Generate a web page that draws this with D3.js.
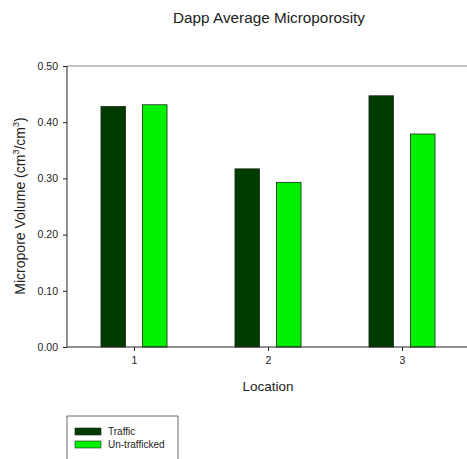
<!DOCTYPE html>
<html>
<head>
<meta charset="utf-8">
<script src="https://cdn.jsdelivr.net/npm/d3@7"></script>
<style>
  body{margin:0;background:#fff;}
  text{font-family:Arial,"Liberation Sans",sans-serif;fill:#222;}
</style>
</head>
<body>
<svg id="chart" width="467" height="459"></svg>
<script>
const locations = [1, 2, 3];
const traffic = [0.428, 0.317, 0.447];
const untrafficked = [0.431, 0.293, 0.379];
const seriesNames = ["Traffic", "Un-trafficked"];
const seriesColors = ["#003c00", "#00f000"];
const yTicks = [0, 0.1, 0.2, 0.3, 0.4, 0.5];

const svg = d3.select("#chart");
const mL = 67, mR = 469, mT = 66, mB = 347;

const x = d3.scaleLinear().domain([0.5, 3.5]).range([mL, mR]);
const y = d3.scaleLinear().domain([0, 0.5]).range([mB, mT]);
const barW = 0.183; // in location units
const off = 0.155;

// title
svg.append("text").attr("x", 269).attr("y", 23).attr("text-anchor", "middle")
  .style("font-size", "15.3px").text("Dapp Average Microporosity");

// frame top line
svg.append("line").attr("x1", mL).attr("x2", mR).attr("y1", mT).attr("y2", mT)
  .attr("stroke", "#888").attr("stroke-width", 1);

// bars
const rows = locations.map((l, i) => ({loc: l, vals: [traffic[i], untrafficked[i]]}));
rows.forEach(r => {
  r.vals.forEach((v, s) => {
    const cx = r.loc + (s === 0 ? -off : off);
    svg.append("rect")
      .attr("x", x(cx - barW / 2)).attr("width", x(barW) - x(0))
      .attr("y", y(v)).attr("height", y(0) - y(v))
      .attr("fill", seriesColors[s]).attr("stroke", "#1a2a1a").attr("stroke-width", 0.8);
  });
});

// axes
const yAxis = d3.axisLeft(y).tickValues(yTicks).tickFormat(d3.format(".2f")).tickSize(4).tickPadding(5);
const gy = svg.append("g").attr("transform", `translate(${mL},0)`).call(yAxis);
gy.select(".domain").attr("d", `M0,${mT}V${mB}`);

const xAxis = d3.axisBottom(x).tickValues(locations).tickFormat(d3.format("d")).tickSize(4).tickPadding(6);
const gx = svg.append("g").attr("transform", `translate(0,${mB})`).call(xAxis);
gx.select(".domain").attr("d", `M${mL},0H${mR}`);

[gx, gy].forEach(g => {
  g.selectAll("text").style("font-size", "10.5px").attr("fill", "#222");
  g.selectAll("line,path").attr("stroke", "#222");
});

// axis titles
svg.append("text").attr("x", 268).attr("y", 391).attr("text-anchor", "middle")
  .style("font-size", "13.5px").text("Location");

const yl = svg.append("text").attr("transform", "translate(25,206) rotate(-90)")
  .attr("text-anchor", "middle").style("font-size", "14px");
yl.append("tspan").text("Micropore Volume (cm");
yl.append("tspan").attr("dy", -6).style("font-size", "9px").text("3");
yl.append("tspan").attr("dy", 6).text("/cm");
yl.append("tspan").attr("dy", -6).style("font-size", "9px").text("3");
yl.append("tspan").attr("dy", 6).text(")");

// legend
const lg = svg.append("g");
lg.append("path").attr("d", "M67,459V416H178V459").attr("fill", "none").attr("stroke", "#444").attr("stroke-width", 0.8);
seriesNames.forEach((n, i) => {
  const yy = 428 + i * 13;
  lg.append("rect").attr("x", 75).attr("y", yy).attr("width", 26).attr("height", 7)
    .attr("fill", seriesColors[i]).attr("stroke", "#1a2a1a").attr("stroke-width", 0.6);
  lg.append("text").attr("x", 108).attr("y", yy + 7).style("font-size", "10px").text(n);
});
</script>
</body>
</html>
